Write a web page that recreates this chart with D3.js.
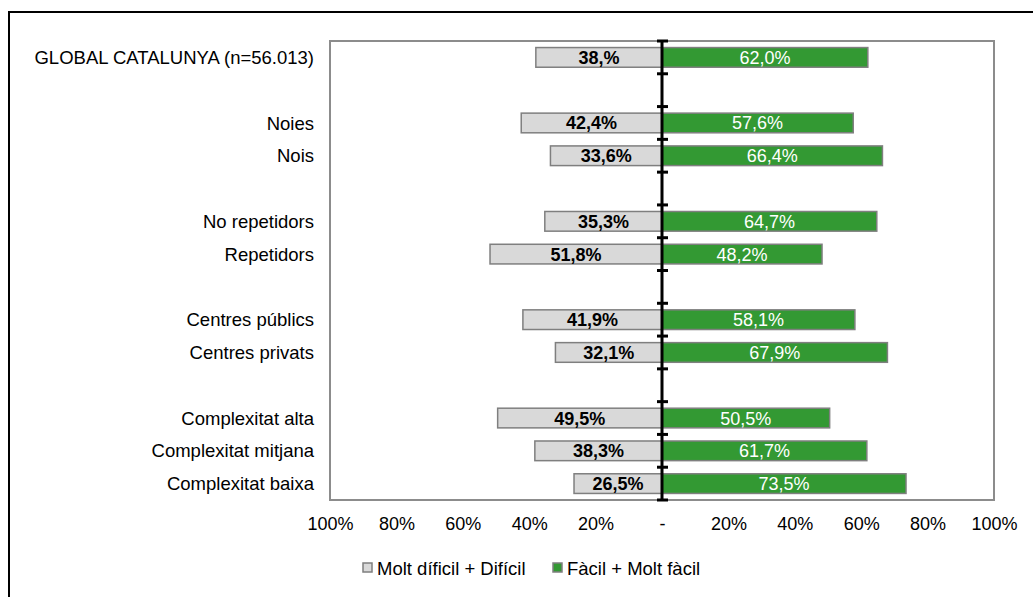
<!DOCTYPE html>
<html><head><meta charset="utf-8">
<script src="https://cdn.jsdelivr.net/npm/d3@7"></script>
<style>body{margin:0;background:#fff}svg{display:block;font-family:"Liberation Sans",Arial,sans-serif}</style>
</head><body><svg id="c" width="1033" height="597"></svg>
<script>
// Rows (empty string = spacer row)
const categories = ["GLOBAL CATALUNYA (n=56.013)", "", "Noies", "Nois", "", "No repetidors", "Repetidors", "", "Centres públics", "Centres privats", "", "Complexitat alta", "Complexitat mitjana", "Complexitat baixa"];
const difficult = [38.0, null, 42.4, 33.6, null, 35.3, 51.8, null, 41.9, 32.1, null, 49.5, 38.3, 26.5];
const difficultLabels = ["38,%", "", "42,4%", "33,6%", "", "35,3%", "51,8%", "", "41,9%", "32,1%", "", "49,5%", "38,3%", "26,5%"];
const easy = [62.0, null, 57.6, 66.4, null, 64.7, 48.2, null, 58.1, 67.9, null, 50.5, 61.7, 73.5];
const easyLabels = ["62,0%", "", "57,6%", "66,4%", "", "64,7%", "48,2%", "", "58,1%", "67,9%", "", "50,5%", "61,7%", "73,5%"];
const tickValues = [-100, -80, -60, -40, -20, 0, 20, 40, 60, 80, 100];
const tickLabels = ["100%", "80%", "60%", "40%", "20%", "-", "20%", "40%", "60%", "80%", "100%"];
const seriesNames = ["Molt díficil + Difícil", "Fàcil + Molt fàcil"];

const svg = d3.select("#c");
const L = 330, R = 994, T = 41, B = 500;
const x = d3.scaleLinear().domain([-100, 100]).range([L, R]);
const y = d3.scaleBand().domain(d3.range(categories.length)).range([T, B]).paddingInner(0.4).paddingOuter(0.2);
const yb = d3.scaleBand().domain(d3.range(categories.length)).range([T, B]);

// outer frame
svg.append("rect").attr("x", 9).attr("y", 12).attr("width", 1040).attr("height", 600)
  .attr("fill", "none").attr("stroke", "#000").attr("stroke-width", 2);

// plot area
svg.append("rect").attr("x", L).attr("y", T).attr("width", R - L).attr("height", B - T)
  .attr("fill", "#fff").attr("stroke", "#8c8c8c").attr("stroke-width", 2);

const rows = categories.map((c, i) => ({c, i, d: difficult[i], e: easy[i], dl: difficultLabels[i], el: easyLabels[i]})).filter(r => r.d != null);

// gray bars
svg.append("g").selectAll("rect").data(rows).join("rect")
  .attr("x", r => x(-r.d)).attr("y", r => y(r.i)).attr("width", r => x(0) - x(-r.d)).attr("height", y.bandwidth())
  .attr("fill", "#d9d9d9").attr("stroke", "#7f7f7f").attr("stroke-width", 1.5);
// green bars
svg.append("g").selectAll("rect").data(rows).join("rect")
  .attr("x", x(0)).attr("y", r => y(r.i)).attr("width", r => x(r.e) - x(0)).attr("height", y.bandwidth())
  .attr("fill", "#339933").attr("stroke", "#7f7f7f").attr("stroke-width", 1.5);

// labels in bars
svg.append("g").selectAll("text").data(rows).join("text")
  .attr("x", r => (x(-r.d) + x(0)) / 2).attr("y", r => y(r.i) + y.bandwidth() / 2).attr("dy", "0.36em")
  .attr("text-anchor", "middle").attr("font-size", 18).attr("font-weight", "bold").attr("fill", "#000")
  .text(r => r.dl);
svg.append("g").selectAll("text").data(rows).join("text")
  .attr("x", r => (x(r.e) + x(0)) / 2).attr("y", r => y(r.i) + y.bandwidth() / 2).attr("dy", "0.36em")
  .attr("text-anchor", "middle").attr("font-size", 18).attr("fill", "#fff")
  .text(r => r.el);

// center vertical axis
const cax = svg.append("g").attr("transform", `translate(${x(0)},0)`);
cax.append("line").attr("y1", T).attr("y2", B).attr("stroke", "#000").attr("stroke-width", 3);
cax.selectAll("line.t").data(d3.range(categories.length + 1)).join("line").attr("class", "t")
  .attr("x1", -5).attr("x2", 6).attr("y1", i => T + i * yb.step()).attr("y2", i => T + i * yb.step())
  .attr("stroke", "#000").attr("stroke-width", 3);

// category labels
svg.append("g").selectAll("text").data(rows).join("text")
  .attr("x", 314).attr("y", r => yb(r.i) + yb.bandwidth() / 2).attr("dy", "0.36em")
  .attr("text-anchor", "end").attr("font-size", 18.5).attr("fill", "#000").text(r => r.c);

// x axis
const xAxis = d3.axisBottom(x).tickValues(tickValues).tickSize(0).tickPadding(0)
  .tickFormat((d, i) => tickLabels[i]);
const gx = svg.append("g").attr("transform", `translate(0,${B + 17})`).call(xAxis);
gx.select(".domain").remove();
gx.selectAll("text").attr("font-size", 18).attr("fill", "#000").attr("font-family", "Liberation Sans, Arial, sans-serif");

// legend
const leg = svg.append("g");
const legItems = [{name: seriesNames[0], fill: "#d9d9d9", x: 363}, {name: seriesNames[1], fill: "#339933", x: 553}];
legItems.forEach(it => {
  leg.append("rect").attr("x", it.x).attr("y", 563).attr("width", 9).attr("height", 9)
    .attr("fill", it.fill).attr("stroke", "#7f7f7f").attr("stroke-width", 1.5);
  leg.append("text").attr("x", it.x + 14).attr("y", 568).attr("dy", "0.36em")
    .attr("font-size", 18.5).attr("fill", "#000").text(it.name);
});
</script></body></html>
